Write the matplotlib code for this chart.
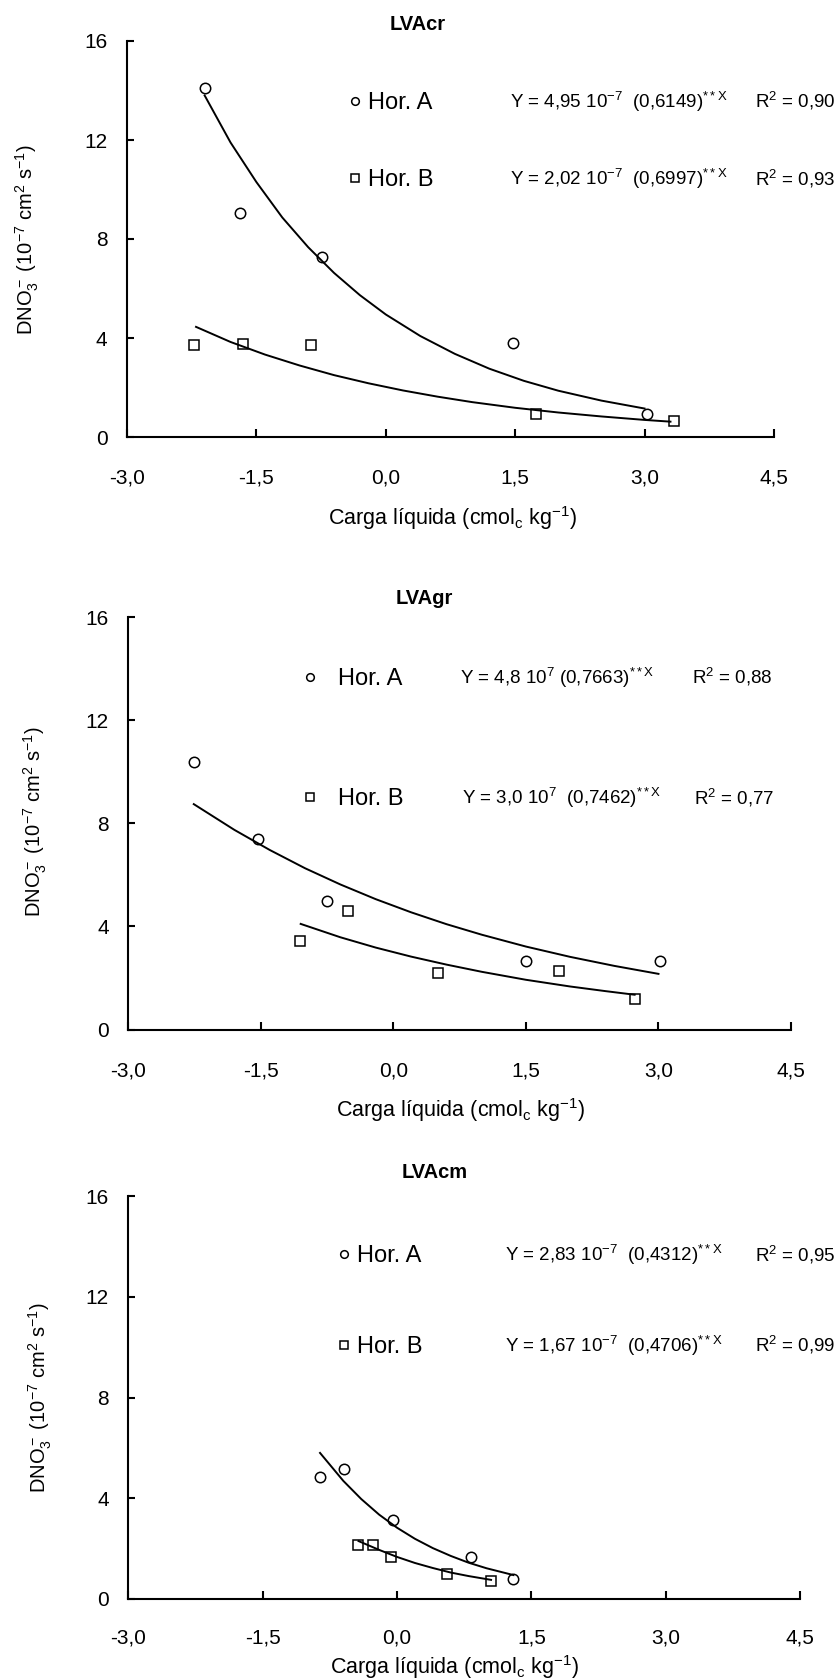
import matplotlib
matplotlib.use("Agg")
import matplotlib.pyplot as plt

plt.rcParams['font.family'] = ['Liberation Sans', 'DejaVu Sans']
plt.rcParams['mathtext.fontset'] = 'custom'
plt.rcParams['mathtext.rm'] = 'Liberation Sans'
plt.rcParams['mathtext.it'] = 'Liberation Sans:italic'
plt.rcParams['mathtext.bf'] = 'Liberation Sans:bold'
plt.rcParams['mathtext.default'] = 'regular'

# ---- data ----
x_ticks = [-3.0, -1.5, 0.0, 1.5, 3.0, 4.5]
x_tick_labels = ['-3,0', '-1,5', '0,0', '1,5', '3,0', '4,5']
y_ticks = [0, 4, 8, 12, 16]
y_tick_labels = ['0', '4', '8', '12', '16']

titles = ['LVAcr', 'LVAgr', 'LVAcm']

# LVAcr
cr_a_x = [-2.10, -1.69, -0.74, 1.48, 3.03]
cr_a_y = [14.1, 9.05, 7.28, 3.81, 0.91]
cr_b_x = [-2.22, -1.65, -0.87, 1.74, 3.34]
cr_b_y = [3.72, 3.75, 3.72, 0.91, 0.65]
cr_fa_x = [-2.1, -1.8, -1.5, -1.2, -0.9, -0.6, -0.3, 0.0, 0.4, 0.8, 1.2, 1.6, 2.0, 2.5, 3.0]
cr_fa_y = [13.8, 11.9, 10.3, 8.87, 7.67, 6.63, 5.73, 4.95, 4.08, 3.36, 2.76, 2.27, 1.87, 1.47, 1.15]
cr_fb_x = [-2.2, -1.8, -1.4, -1.0, -0.6, -0.2, 0.2, 0.6, 1.0, 1.5, 2.0, 2.5, 3.0, 3.3]
cr_fb_y = [4.45, 3.84, 3.33, 2.89, 2.50, 2.17, 1.88, 1.63, 1.41, 1.18, 0.99, 0.83, 0.69, 0.62]

# LVAgr
gr_a_x = [-2.26, -1.53, -0.75, 1.50, 3.02]
gr_a_y = [10.4, 7.39, 4.99, 2.65, 2.65]
gr_b_x = [-1.06, -0.51, 0.50, 1.87, 2.73]
gr_b_y = [3.43, 4.59, 2.20, 2.27, 1.18]
gr_fa_x = [-2.26, -1.8, -1.4, -1.0, -0.6, -0.2, 0.2, 0.6, 1.0, 1.5, 2.0, 2.5, 3.0]
gr_fa_y = [8.75, 7.75, 6.97, 6.26, 5.63, 5.06, 4.55, 4.09, 3.68, 3.22, 2.82, 2.47, 2.16]
gr_fb_x = [-1.05, -0.6, -0.2, 0.2, 0.6, 1.0, 1.5, 2.0, 2.4, 2.73]
gr_fb_y = [4.1, 3.58, 3.18, 2.83, 2.52, 2.24, 1.93, 1.67, 1.49, 1.35]

# LVAcm
cm_a_x = [-0.86, -0.59, -0.04, 0.83, 1.29]
cm_a_y = [4.85, 5.15, 3.12, 1.65, 0.81]
cm_b_x = [-0.44, -0.27, -0.07, 0.56, 1.05]
cm_b_y = [2.16, 2.13, 1.67, 0.99, 0.71]
cm_fa_x = [-0.86, -0.6, -0.4, -0.2, 0.0, 0.2, 0.4, 0.6, 0.8, 1.0, 1.3]
cm_fa_y = [5.8, 4.69, 3.97, 3.35, 2.83, 2.39, 2.02, 1.71, 1.44, 1.22, 0.95]
cm_fb_x = [-0.43, -0.2, 0.0, 0.2, 0.4, 0.6, 0.8, 1.05]
cm_fb_y = [2.3, 1.95, 1.67, 1.43, 1.23, 1.05, 0.91, 0.76]

eq_a = [r"Y = 4,95 10$^{-7}$  (0,6149)$^{**X}$",
        r"Y = 4,8 10$^{7}$ (0,7663)$^{**X}$",
        r"Y = 2,83 10$^{-7}$  (0,4312)$^{**X}$"]
eq_b = [r"Y = 2,02 10$^{-7}$  (0,6997)$^{**X}$",
        r"Y = 3,0 10$^{7}$  (0,7462)$^{**X}$",
        r"Y = 1,67 10$^{-7}$  (0,4706)$^{**X}$"]
r2_a = ['0,90', '0,88', '0,95']
r2_b = ['0,93', '0,77', '0,99']

ylabel = r"DNO$_3^-$ (10$^{-7}$ cm$^2$ s$^{-1}$)"
xlabel = r"Carga líquida (cmol$_c$ kg$^{-1}$)"

W, H = 836, 1678
fig = plt.figure(figsize=(W / 100, H / 100), dpi=100)


def px(x, y):
    return x / W, 1 - y / H


# axes boxes in pixels: left, right, top, bottom
boxes = [(127, 774, 41, 437), (128.4, 791, 617.4, 1029.5), (128.4, 800, 1196, 1599)]
# text layout in pixels for each panel
layout = [
    dict(title=(418, 25), xl=(453, 518), yl=(27, 240), mk=355, hor=368,
         eq=(510, 510), r2=(755, 755), ya=101, yb=178, pad=23),
    dict(title=(424, 599), xl=(461, 1110), yl=(35, 822), mk=310, hor=338,
         eq=(460, 462), r2=(692, 694), ya=677, yb=797, pad=23),
    dict(title=(435, 1173), xl=(455, 1667), yl=(40, 1398), mk=344, hor=357,
         eq=(505, 505), r2=(755, 755), ya=1254, yb=1345, pad=21),
]

series = [
    (cr_a_x, cr_a_y, cr_b_x, cr_b_y, cr_fa_x, cr_fa_y, cr_fb_x, cr_fb_y),
    (gr_a_x, gr_a_y, gr_b_x, gr_b_y, gr_fa_x, gr_fa_y, gr_fb_x, gr_fb_y),
    (cm_a_x, cm_a_y, cm_b_x, cm_b_y, cm_fa_x, cm_fa_y, cm_fb_x, cm_fb_y),
]

mk_opts = dict(linestyle='none', markerfacecolor='none', markeredgecolor='black',
               markeredgewidth=1.1, markersize=7.5)

for i, (box, lay, s) in enumerate(zip(boxes, layout, series)):
    l, r, t, b = box
    ax = fig.add_axes([l / W, 1 - b / H, (r - l) / W, (b - t) / H])
    ax_x, ax_y, bx_x, bx_y, fa_x, fa_y, fb_x, fb_y = s

    ax.plot(fa_x, fa_y, color='black', lw=1.4)
    ax.plot(fb_x, fb_y, color='black', lw=1.4)
    ax.plot(ax_x, ax_y, marker='o', **mk_opts)
    ax.plot(bx_x, bx_y, marker='s', **mk_opts)

    ax.set_xlim(-3.0, 4.5)
    ax.set_ylim(0, 16)
    ax.set_xticks(x_ticks, x_tick_labels)
    ax.set_yticks(y_ticks, y_tick_labels)
    ax.spines['top'].set_visible(False)
    ax.spines['right'].set_visible(False)
    for sp in ('left', 'bottom'):
        ax.spines[sp].set_linewidth(1.5)
    ax.tick_params(axis='x', direction='in', length=6, width=1.5, pad=lay['pad'], labelsize=15)
    ax.tick_params(axis='y', direction='in', length=5, width=1.5, pad=14, labelsize=15)

    # titles, axis labels
    fig.text(*px(*lay['title']), titles[i], fontsize=14.5, fontweight='bold',
             ha='center', va='center')
    fig.text(*px(*lay['xl']), xlabel, fontsize=15.5, ha='center', va='center')
    fig.text(*px(*lay['yl']), ylabel, fontsize=14.5, ha='center', va='center',
             rotation=90)

    # legend-like annotations
    for yy, mk in ((lay['ya'], 'o'), (lay['yb'], 's')):
        fig.add_artist(plt.Line2D([px(lay['mk'], 0)[0]], [px(0, yy)[1]],
                                  marker=mk, markersize=5.5, markerfacecolor='none',
                                  markeredgecolor='black', markeredgewidth=1.1,
                                  transform=fig.transFigure))
    rows = ((lay['ya'], 'Hor. A', eq_a[i], r2_a[i], lay['eq'][0], lay['r2'][0]),
            (lay['yb'], 'Hor. B', eq_b[i], r2_b[i], lay['eq'][1], lay['r2'][1]))
    for yy, name, eq, r2, ex, rx in rows:
        fig.text(*px(lay['hor'], yy + 8), name, fontsize=17, ha='left', va='baseline')
        fig.text(*px(ex, yy + 7), eq, fontsize=13.5, ha='left', va='baseline')
        fig.text(*px(rx, yy + 7), r"R$^2$ = " + r2, fontsize=13.5, ha='left', va='baseline')

fig.savefig('out.png', dpi=100)
